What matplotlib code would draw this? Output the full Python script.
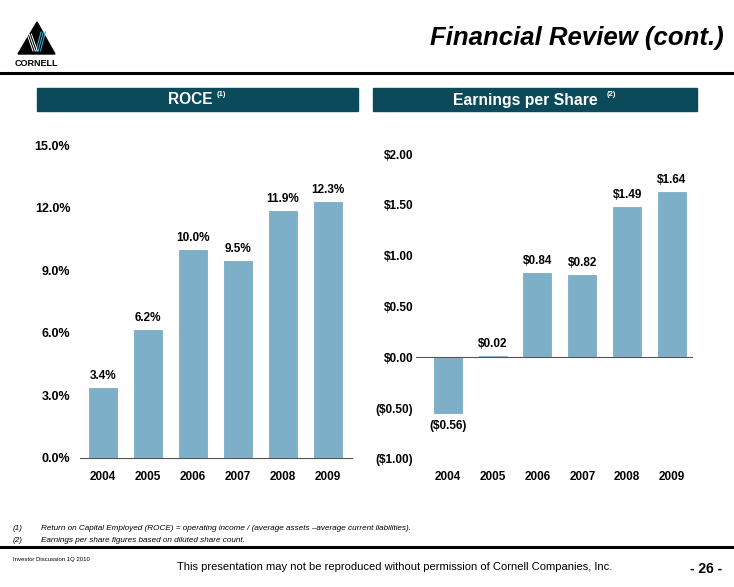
import matplotlib.pyplot as plt
from matplotlib.patches import Polygon, Rectangle
import numpy as np

plt.rcParams['font.family'] = ['Liberation Sans', 'DejaVu Sans']

years = ['2004', '2005', '2006', '2007', '2008', '2009']
roce = [3.4, 6.2, 10.0, 9.5, 11.9, 12.3]
roce_labels = ['3.4%', '6.2%', '10.0%', '9.5%', '11.9%', '12.3%']
eps = [-0.56, 0.02, 0.84, 0.82, 1.49, 1.64]
eps_labels = ['($0.56)', '$0.02', '$0.84', '$0.82', '$1.49', '$1.64']
roce_ticks = [0, 3, 6, 9, 12, 15]
roce_ticklabels = ['0.0%', '3.0%', '6.0%', '9.0%', '12.0%', '15.0%']
eps_ticks = [-1, -0.5, 0, 0.5, 1, 1.5, 2]
eps_ticklabels = ['($1.00)', '($0.50)', '$0.00', '$0.50', '$1.00', '$1.50', '$2.00']

W, H = 734, 587
BAR = '#7DAFC8'
TEAL = '#0B4A5A'


def fx(x):
    return x / W


def fy(y):
    return 1 - y / H


fig = plt.figure(figsize=(W / 100, H / 100), dpi=100)

# ROCE chart
ax1 = fig.add_axes([fx(80), fy(458), fx(352) - fx(80), fy(145) - fy(458)])
x = np.arange(len(years))
ax1.bar(x, roce, width=0.67, color=BAR, edgecolor='white', linewidth=0.8)
for xi, v, lab in zip(x, roce, roce_labels):
    ax1.annotate(lab, (xi, v), xytext=(0, 3.5), textcoords='offset points',
                 ha='center', va='bottom', fontsize=8.5, fontweight='bold')
ax1.set_xlim(-0.51, 5.53)
ax1.set_ylim(0, 15)
ax1.set_yticks(roce_ticks)
ax1.set_yticklabels(roce_ticklabels)
ax1.set_xticks(x)
ax1.set_xticklabels(years)
for s in ['top', 'right', 'left']:
    ax1.spines[s].set_visible(False)
ax1.spines['bottom'].set_color('#555555')
ax1.tick_params(axis='y', length=0, pad=7, labelsize=9)
ax1.tick_params(axis='x', length=0, pad=9, labelsize=8.5)

# EPS chart
ax2 = fig.add_axes([fx(416), fy(459), fx(693) - fx(416), fy(154) - fy(459)])
ax2.bar(x, eps, width=0.67, color=BAR, edgecolor='white', linewidth=0.8)
for xi, v, lab in zip(x, eps, eps_labels):
    if v < 0:
        ax2.annotate(lab, (xi, v), xytext=(0, -4), textcoords='offset points',
                     ha='center', va='top', fontsize=8.5, fontweight='bold')
    else:
        ax2.annotate(lab, (xi, v), xytext=(0, 3.5), textcoords='offset points',
                     ha='center', va='bottom', fontsize=8.5, fontweight='bold')
ax2.axhline(0, color='#555555', linewidth=0.8)
ax2.set_xlim(-0.71, 5.47)
ax2.set_ylim(-1, 2)
ax2.set_yticks(eps_ticks)
ax2.set_yticklabels(eps_ticklabels)
ax2.set_xticks(x)
ax2.set_xticklabels(years)
for s in ['top', 'right', 'left', 'bottom']:
    ax2.spines[s].set_visible(False)
ax2.tick_params(axis='y', length=0, pad=2, labelsize=8.5)
ax2.tick_params(axis='x', length=0, pad=9, labelsize=8.5)

for ax in (ax1, ax2):
    for lab in ax.get_xticklabels() + ax.get_yticklabels():
        lab.set_fontweight('bold')

# header bars
fig.patches.append(Rectangle((fx(37), fy(111)), fx(358) - fx(37), fy(88) - fy(111),
                             transform=fig.transFigure, color=TEAL))
fig.patches.append(Rectangle((fx(373), fy(111)), fx(697) - fx(373), fy(88) - fy(111),
                             transform=fig.transFigure, color=TEAL))
fig.text(fx(168), fy(100), 'ROCE', color='white', fontsize=11.2, fontweight='bold',
         ha='left', va='center')
fig.text(fx(217), fy(94), '(1)', color='white', fontsize=5.5, fontweight='bold',
         ha='left', va='center')
fig.text(fx(453), fy(100), 'Earnings per Share', color='white', fontsize=11.3,
         fontweight='bold', ha='left', va='center')
fig.text(fx(607), fy(94), '(2)', color='white', fontsize=5.5, fontweight='bold',
         ha='left', va='center')

# title and rules
fig.text(fx(724), fy(38), 'Financial Review (cont.)', fontsize=18.5, fontweight='bold',
         fontstyle='italic', ha='right', va='center')
fig.add_artist(plt.Line2D([0, 1], [fy(72.5), fy(72.5)], color='black', linewidth=2.2))
fig.add_artist(plt.Line2D([0, 1], [fy(547), fy(547)], color='black', linewidth=2.2))

# logo
fig.patches.append(Polygon([(fx(37), fy(22)), (fx(18), fy(54)), (fx(55), fy(54))],
                           closed=True, transform=fig.transFigure, color='black'))
for dx in [0, 2.2, 4.4]:
    fig.add_artist(plt.Line2D([fx(27 + dx), fx(33 + dx)], [fy(34), fy(51)],
                              color='white', linewidth=0.7))
    fig.add_artist(plt.Line2D([fx(41 + dx), fx(36 + dx)], [fy(32), fy(51)],
                              color='#3AA6C8', linewidth=0.8))
fig.text(fx(36), fy(63), 'CORNELL', fontsize=6.5, fontweight='bold', ha='center',
         va='center')

# footnotes
fig.text(fx(13), fy(529), '(1)', fontsize=5.9, fontstyle='italic', va='center')
fig.text(fx(41), fy(529),
         'Return on Capital Employed (ROCE) = operating income / (average assets \u2013average current liabilities).',
         fontsize=5.9, fontstyle='italic', va='center')
fig.text(fx(13), fy(540), '(2)', fontsize=5.9, fontstyle='italic', va='center')
fig.text(fx(41), fy(540), 'Earnings per share figures based on diluted share count.',
         fontsize=5.9, fontstyle='italic', va='center')

# footer
fig.text(fx(13), fy(560), 'Investor Discussion 1Q 2010', fontsize=4.3, va='center')
fig.text(fx(395), fy(567),
         'This presentation may not be reproduced without permission of Cornell Companies, Inc.',
         fontsize=8, ha='center', va='center')
fig.text(fx(722), fy(569), '- 26 -', fontsize=10, fontweight='bold', ha='right',
         va='center')

fig.savefig('out.png', dpi=100)
